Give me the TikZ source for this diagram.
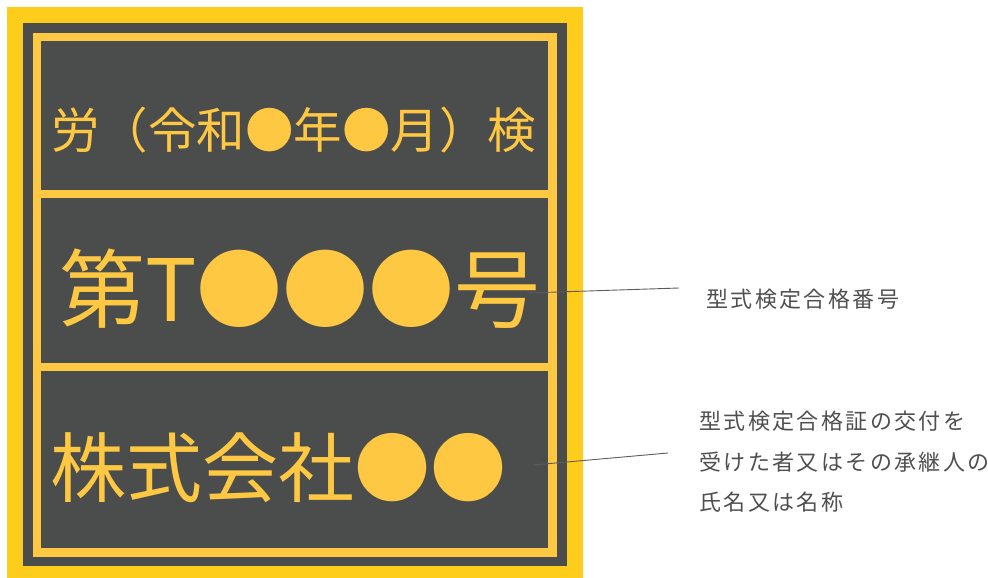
\documentclass[tikz,border=0pt]{standalone}
\usepackage{fontspec}
\setmainfont{Noto Sans CJK JP}
\definecolor{outerY}{HTML}{FECD1B}
\definecolor{innerY}{HTML}{FEC843}
\definecolor{darkG}{HTML}{4B4C4C}
\definecolor{labelG}{HTML}{4F4F4F}
\definecolor{leadG}{HTML}{5C5C5C}
\begin{document}
\begin{tikzpicture}[x=1pt,y=-1pt,
  plate/.style={inner sep=0pt,text=innerY},
  label/.style={inner sep=0pt,text=labelG,align=left,
    font=\fontsize{22}{40.3}\selectfont\addfontfeature{LetterSpace=11}},
  leader/.style={draw=leadG,line width=0.9pt}]
\useasboundingbox (0,0) rectangle (988,578);
% plate
\fill[outerY] (7,7) rectangle (583,578);
\fill[darkG] (23,23) rectangle (567,566);
\fill[innerY] (33,33) rectangle (557,557);
\fill[darkG] (41,41) rectangle (548,190);
\fill[darkG] (41,198) rectangle (548,363);
\fill[darkG] (41,371) rectangle (548,548);
% texts
\node[plate,anchor=base west,font=\fontsize{48.5}{48.5}\selectfont] (t1) at (51,148) {労（令和●年●月）検};
\node[plate,anchor=base west,font=\fontsize{86}{86}\selectfont] (t2) at (59,321) {第T●●●号};
\node[plate,anchor=base west,font=\fontsize{76}{76}\selectfont] (t3) at (50,496) {株式会社●●};
% labels
\node[label,anchor=base west] (l1) at (706,307.4) {型式検定合格番号};
\node[label,anchor=north west] (l2) at (699,411) {型式検定合格証の交付を\\受けた者又はその承継人の\\氏名又は名称};
% leaders
\coordinate (a1) at (527,293);
\coordinate (b1) at (679,288);
\coordinate (a2) at (533,465);
\coordinate (b2) at (668,453);
\draw[leader] (a1) -- (b1);
\draw[leader] (a2) -- (b2);
\end{tikzpicture}
\end{document}
